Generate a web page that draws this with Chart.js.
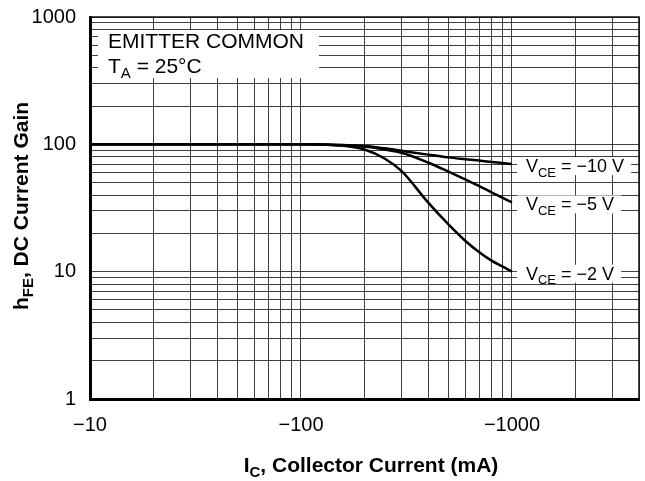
<!DOCTYPE html>
<html>
<head>
<meta charset="utf-8">
<script src="https://cdn.jsdelivr.net/npm/chart.js@4.4.0/dist/chart.umd.min.js"></script>
<style>
  body { margin: 0; background: #fff; }
  #wrap { width: 645px; height: 481px; }
</style>
</head>
<body>
<div id="wrap"><canvas id="gainChart" width="645" height="481"></canvas></div>
<script>
// Collector current magnitude (mA); the axis shows them as negative values
const currents = [10, 20, 50, 100, 150, 200, 250, 300, 400, 500, 600, 700, 800, 900, 1000];
const gainVce10 = [100, 100, 100, 100, 99, 97, 93, 89, 83, 79, 76.5, 74.5, 72.8, 71.3, 70];
const gainVce5  = [100, 100, 100, 100, 99, 96, 91, 86, 72, 61, 53, 47, 42, 38.2, 35];
const gainVce2  = [100, 100, 100, 100, 98, 91, 77, 61.5, 35, 23.5, 17.5, 14.2, 12.2, 11, 10];
const seriesNames = ['\u221210 V', '\u22125 V', '\u22122 V'];

const xGrid = [10, 20, 30, 40, 50, 60, 70, 80, 90, 100, 200, 300, 400, 500, 600, 700, 800, 900, 1000, 2000, 3000, 4000];
const xLabels = { 10: '\u221210', 100: '\u2212100', 1000: '\u22121000' };
const yGrid = [1, 2, 3, 4, 5, 6, 7, 8, 9, 10, 20, 30, 40, 50, 60, 70, 80, 90, 100, 200, 300, 400, 500, 600, 700, 800, 900, 1000];
const yLabels = { 1: '1', 10: '10', 100: '100', 1000: '1000' };

const FONT = "'Liberation Sans', Arial, Helvetica, sans-serif";
const gridColor = 'rgba(0,0,0,0.75)';

const toPoints = (vals) => currents.map((c, i) => ({ x: c, y: vals[i] }));

// drop the label overhang padding so the plot box stays where the layout puts it
function fixSize(s, key, size) {
    s[key] = size;
    s.paddingTop = s.paddingBottom = s.paddingLeft = s.paddingRight = 0;
}

// draws text pieces, some of them as subscripts, from x on baseline y
function drawParts(ctx, parts, x, y, size, bold) {
    const w = bold ? 'bold ' : '';
    parts.forEach(([txt, sub]) => {
        ctx.font = w + (sub ? Math.round(size * 0.72) : size) + 'px ' + FONT;
        ctx.fillText(txt, x, sub ? y + size * 0.25 : y);
        x += ctx.measureText(txt).width;
    });
    return x;
}
function partsWidth(ctx, parts, size, bold) {
    const w = bold ? 'bold ' : '';
    return parts.reduce((acc, [txt, sub]) => {
        ctx.font = w + (sub ? Math.round(size * 0.72) : size) + 'px ' + FONT;
        return acc + ctx.measureText(txt).width;
    }, 0);
}

const decorations = {
    id: 'decorations',
    afterDraw(chart) {
        const ctx = chart.ctx;
        const area = chart.chartArea;
        const xs = chart.scales.x, ys = chart.scales.y;
        ctx.save();

        // top and right frame
        ctx.strokeStyle = '#111';
        ctx.lineWidth = 1.5;
        ctx.beginPath();
        ctx.moveTo(area.left, area.top);
        ctx.lineTo(area.right, area.top);
        ctx.lineTo(area.right, area.bottom);
        ctx.stroke();

        // condition box
        ctx.fillStyle = '#fff';
        ctx.fillRect(98, 30, 221, 48);
        ctx.fillStyle = '#000';
        ctx.textBaseline = 'alphabetic';
        ctx.textAlign = 'left';
        ctx.font = '21px ' + FONT;
        ctx.fillText('EMITTER COMMON', 108, 48);
        drawParts(ctx, [['T', false], ['A', true], [' = 25\u00B0C', false]], 108, 73, 21, false);

        // curve labels
        [gainVce10, gainVce5, gainVce2].forEach((vals, i) => {
            const last = vals.length - 1;
            const px = xs.getPixelForValue(currents[last]) + 5;
            const py = ys.getPixelForValue(vals[last]) + 2;
            const parts = [['V', false], ['CE', true], [' = ' + seriesNames[i], false]];
            const w = partsWidth(ctx, parts, 18, false);
            ctx.fillStyle = '#fff';
            ctx.fillRect(px, py - 9, w + 16, 18);
            ctx.fillStyle = '#000';
            drawParts(ctx, parts, px + 9, py + 6, 18, false);
        });

        // axis titles
        const xt = [['I', false], ['C', true], [', Collector Current (mA)', false]];
        const xw = partsWidth(ctx, xt, 21, true);
        ctx.fillStyle = '#000';
        drawParts(ctx, xt, 371 - xw / 2, 472, 21, true);

        const yt = [['h', false], ['FE', true], [', DC Current Gain', false]];
        const yw = partsWidth(ctx, yt, 21, true);
        ctx.translate(28, 206);
        ctx.rotate(-Math.PI / 2);
        drawParts(ctx, yt, -yw / 2, 0, 21, true);

        ctx.restore();
    }
};

new Chart(document.getElementById('gainChart'), {
    type: 'line',
    data: {
        datasets: [
            { label: 'VCE = -10 V', data: toPoints(gainVce10) },
            { label: 'VCE = -5 V', data: toPoints(gainVce5) },
            { label: 'VCE = -2 V', data: toPoints(gainVce2) }
        ].map(d => Object.assign(d, {
            borderColor: '#000',
            borderWidth: 2.5,
            pointRadius: 0,
            fill: false,
            cubicInterpolationMode: 'monotone'
        }))
    },
    options: {
        responsive: false,
        animation: false,
        devicePixelRatio: 1,
        layout: { padding: { top: 17, right: 6, left: 0, bottom: 0 } },
        plugins: { legend: { display: false }, tooltip: { enabled: false } },
        scales: {
            x: {
                type: 'logarithmic',
                min: 10,
                max: 4000,
                afterBuildTicks: (s) => { s.ticks = xGrid.map(v => ({ value: v })); },
                afterFit: (s) => fixSize(s, 'height', 82),
                ticks: {
                    autoSkip: false,
                    maxRotation: 0,
                    padding: 14,
                    color: '#000',
                    font: { family: FONT, size: 20 },
                    callback: (v) => xLabels[v] || ''
                },
                grid: { color: gridColor, lineWidth: 1, drawTicks: false },
                border: { color: '#000', width: 3 }
            },
            y: {
                type: 'logarithmic',
                min: 1,
                max: 1000,
                afterBuildTicks: (s) => { s.ticks = yGrid.map(v => ({ value: v })); },
                afterFit: (s) => fixSize(s, 'width', 90),
                ticks: {
                    autoSkip: false,
                    padding: 14,
                    color: '#000',
                    font: { family: FONT, size: 20 },
                    callback: (v) => yLabels[v] || ''
                },
                grid: { color: gridColor, lineWidth: 1, drawTicks: false },
                border: { color: '#000', width: 3 }
            }
        }
    },
    plugins: [decorations]
});
</script>
</body>
</html>
